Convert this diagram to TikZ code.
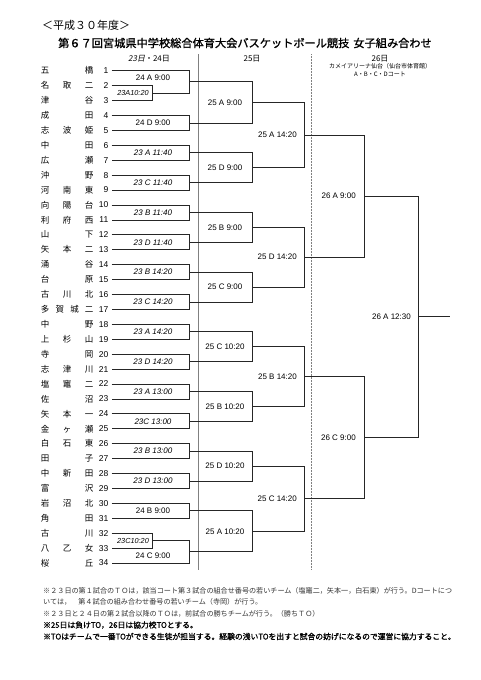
\documentclass[tikz,border=0pt]{standalone}
\usepackage{fontspec}
\setmainfont{Liberation Sans}
\newfontfamily\jp{Noto Sans CJK JP}
\newfontfamily\jpb[FakeBold=1.2]{Noto Sans CJK JP}
\newfontfamily\jpit[FakeSlant=0.2]{Noto Sans CJK JP}
\usetikzlibrary{calc}
\newcommand\bracketm[4]{%
  \draw[br] (#1) -- (#1 -| #3) -- (#2 -| #3) -- (#2);
  \coordinate (#4) at ($(#1 -| #3)!0.5!(#2 -| #3)$);
}
\begin{document}
\begin{tikzpicture}[x=1pt,y=-1pt,
  br/.style={draw=black!85, line width=0.8pt},
  divl/.style={draw=black!50, line width=0.5pt},
  divr/.style={draw=black!50, line width=0.5pt, densely dotted},
  teamname/.style={anchor=west, inner sep=0pt, font=\jp\fontsize{8.5}{10}\selectfont},
  teamnum/.style={anchor=east, inner sep=0pt, font=\fontsize{8.5}{10}\selectfont},
  labit/.style={inner sep=0pt, font=\itshape\fontsize{8}{9}\selectfont},
  labup/.style={inner sep=0pt, font=\fontsize{8}{9}\selectfont},
  labsm/.style={inner sep=0pt, font=\itshape\fontsize{7.3}{9}\selectfont},
  labr/.style={anchor=east, inner sep=0pt, font=\fontsize{8}{9}\selectfont},
  hdr/.style={inner sep=0pt, font=\jp\fontsize{8}{9}\selectfont},
  hdrs/.style={inner sep=0pt, font=\jp\fontsize{6}{7}\selectfont},
  ttl/.style={anchor=west, inner sep=0pt, font=\jp\fontsize{11}{12}\selectfont},
  ttlb/.style={anchor=west, inner sep=0pt, font=\jpb\fontsize{11.2}{12}\selectfont},
  fnm/.style={anchor=west, inner sep=0pt, text=black!80, font=\jp\fontsize{7.1}{8}\selectfont},
  fnb/.style={anchor=west, inner sep=0pt, font=\jpb\fontsize{7.8}{8}\selectfont},
]
\useasboundingbox (0,0) rectangle (481,680);
\fill[white] (0,0) rectangle (481,680);

% titles
\node[ttl] (sub) at (42,25) {＜平成３０年度＞};
\node[ttlb] (title) at (58,43) {第６７回宮城県中学校総合体育大会バスケットボール競技\hspace{4pt}女子組み合わせ};

% header
\node[hdr] (h1) at (149,59) {{\jpit 23日}・24日};
\node[hdr] (h2) at (252,59) {25日};
\node[hdr] (h3) at (380,59) {26日};
\node[hdrs] (h3a) at (380,66.7) {カメイアリーナ仙台（仙台市体育館）};
\node[hdrs] (h3b) at (380,74.3) {A・B・C・Dコート};

% dividers
\coordinate (d1t) at (198,54); \coordinate (d1b) at (198,570);
\coordinate (d2t) at (311,54); \coordinate (d2b) at (311,570);
\draw[divl] (d1t) -- (d1b);
\draw[divr] (d2t) -- (d2b);

% vertical positions of bracket levels
\coordinate (v0) at (152,0);
\coordinate (v1) at (189,0);
\coordinate (v2) at (252,0);
\coordinate (v3) at (304,0);
\coordinate (v4) at (364,0);
\coordinate (v5) at (418,0);
\coordinate (vend) at (450,0);
\coordinate (lx1) at (153,0);
\coordinate (lx0) at (133,0);
\coordinate (lx2) at (225,0);

% teams
\foreach \i/\nm in {
 1/{五\hfill 橋}, 2/{名\hfill 取\hfill 二}, 3/{津\hfill 谷}, 4/{成\hfill 田},
 5/{志\hfill 波\hfill 姫}, 6/{中\hfill 田}, 7/{広\hfill 瀬}, 8/{沖\hfill 野},
 9/{河\hfill 南\hfill 東}, 10/{向\hfill 陽\hfill 台}, 11/{利\hfill 府\hfill 西},
 12/{山\hfill 下}, 13/{矢\hfill 本\hfill 二}, 14/{涌\hfill 谷}, 15/{台\hfill 原},
 16/{古\hfill 川\hfill 北}, 17/{多\hfill 賀\hfill 城\hfill 二}, 18/{中\hfill 野},
 19/{上\hfill 杉\hfill 山}, 20/{寺\hfill 岡}, 21/{志\hfill 津\hfill 川},
 22/{塩\hfill 竈\hfill 二}, 23/{佐\hfill 沼}, 24/{矢\hfill 本\hfill 一},
 25/{金\hfill ヶ\hfill 瀬}, 26/{白\hfill 石\hfill 東}, 27/{田\hfill 子},
 28/{中\hfill 新\hfill 田}, 29/{富\hfill 沢}, 30/{岩\hfill 沼\hfill 北},
 31/{角\hfill 田}, 32/{古\hfill 川}, 33/{八\hfill 乙\hfill 女}, 34/{桜\hfill 丘}} {
  \pgfmathsetmacro\yy{70.7+(\i-1)*14.92}
  \node[teamname] (n\i) at (40.75,\yy) {\hbox to 52.5pt{\nm}};
  \node[teamnum] (k\i) at (108.5,\yy) {\i};
  \coordinate (s\i) at (111.5,\yy);
}

% round 1
\bracketm{s2}{s3}{v0}{m1}
\bracketm{s1}{m1}{v1}{m2}
\bracketm{s4}{s5}{v1}{m3}
\bracketm{s6}{s7}{v1}{m4}
\bracketm{s8}{s9}{v1}{m5}
\bracketm{s10}{s11}{v1}{m6}
\bracketm{s12}{s13}{v1}{m7}
\bracketm{s14}{s15}{v1}{m8}
\bracketm{s16}{s17}{v1}{m9}
\bracketm{s18}{s19}{v1}{m10}
\bracketm{s20}{s21}{v1}{m11}
\bracketm{s22}{s23}{v1}{m12}
\bracketm{s24}{s25}{v1}{m13}
\bracketm{s26}{s27}{v1}{m14}
\bracketm{s28}{s29}{v1}{m15}
\bracketm{s30}{s31}{v1}{m16}
\bracketm{s32}{s33}{v0}{m17}
\bracketm{m17}{s34}{v1}{m18}

\coordinate (c2) at ($(s1)!0.5!(s2)$);
\coordinate (c18) at ($(s33)!0.5!(s34)$);
\node[labsm] (l1) at (m1 -| lx0) {23A10:20};
\node[labup] (l2) at (c2 -| lx1) {24 A 9:00};
\node[labup] (l3) at (m3 -| lx1) {24 D 9:00};
\node[labit] (l4) at (m4 -| lx1) {23 A 11:40};
\node[labit] (l5) at (m5 -| lx1) {23 C 11:40};
\node[labit] (l6) at (m6 -| lx1) {23 B 11:40};
\node[labit] (l7) at (m7 -| lx1) {23 D 11:40};
\node[labit] (l8) at (m8 -| lx1) {23 B 14:20};
\node[labit] (l9) at (m9 -| lx1) {23 C 14:20};
\node[labit] (l10) at (m10 -| lx1) {23 A 14:20};
\node[labit] (l11) at (m11 -| lx1) {23 D 14:20};
\node[labit] (l12) at (m12 -| lx1) {23 A 13:00};
\node[labit] (l13) at (m13 -| lx1) {23C 13:00};
\node[labit] (l14) at (m14 -| lx1) {23 B 13:00};
\node[labit] (l15) at (m15 -| lx1) {23 D 13:00};
\node[labup] (l16) at (m16 -| lx1) {24 B 9:00};
\node[labsm] (l17) at (m17 -| lx0) {23C10:20};
\node[labup] (l18) at (c18 -| lx1) {24 C 9:00};

% round 2 (25th morning)
\bracketm{m2}{m3}{v2}{r1}
\bracketm{m4}{m5}{v2}{r2}
\bracketm{m6}{m7}{v2}{r3}
\bracketm{m8}{m9}{v2}{r4}
\bracketm{m10}{m11}{v2}{r5}
\bracketm{m12}{m13}{v2}{r6}
\bracketm{m14}{m15}{v2}{r7}
\bracketm{m16}{m18}{v2}{r8}
\node[labup] (g1) at (r1 -| lx2) {25 A 9:00};
\node[labup] (g2) at (r2 -| lx2) {25 D 9:00};
\node[labup] (g3) at (r3 -| lx2) {25 B 9:00};
\node[labup] (g4) at (r4 -| lx2) {25 C 9:00};
\node[labup] (g5) at (r5 -| lx2) {25 C 10:20};
\node[labup] (g6) at (r6 -| lx2) {25 B 10:20};
\node[labup] (g7) at (r7 -| lx2) {25 D 10:20};
\node[labup] (g8) at (r8 -| lx2) {25 A 10:20};

% round 3 (25th afternoon)
\bracketm{r1}{r2}{v3}{q1}
\bracketm{r3}{r4}{v3}{q2}
\bracketm{r5}{r6}{v3}{q3}
\bracketm{r7}{r8}{v3}{q4}
\node[labr] (h1l) at ([xshift=-7pt]q1) {25 A 14:20};
\node[labr] (h2l) at ([xshift=-7pt]q2) {25 D 14:20};
\node[labr] (h3l) at ([xshift=-7pt]q3) {25 B 14:20};
\node[labr] (h4l) at ([xshift=-7pt]q4) {25 C 14:20};

% round 4 (26th)
\bracketm{q1}{q2}{v4}{p1}
\bracketm{q3}{q4}{v4}{p2}
\node[labr] (p1l) at ([xshift=-8pt]p1) {26 A 9:00};
\node[labr] (p2l) at ([xshift=-8pt]p2) {26 C 9:00};

% final
\bracketm{p1}{p2}{v5}{f}
\coordinate (fend) at (f -| vend);
\draw[br] (f) -- (fend);
\node[labr] (fl) at ([xshift=-7pt]f) {26 A 12:30};

% footnotes
\node[fnm] (fn1) at (43,591) {※２３日の第１試合のＴＯは，該当コート第３試合の組合せ番号の若いチーム（塩竈二，矢本一，白石東）が行う。Dコートにつ};
\node[fnm] (fn2) at (43,602) {いては，　第４試合の組み合わせ番号の若いチーム（寺岡）が行う。};
\node[fnm] (fn3) at (43,613.5) {※２３日と２４日の第２試合以降のＴＯは，前試合の勝ちチームが行う。（勝ちＴＯ）};
\node[fnb] (fn4) at (43,625) {※25日は負けTO，26日は協力校TOとする。};
\node[fnb] (fn5) at (43,636.5) {※TOはチームで一番TOができる生徒が担当する。経験の浅いTOを出すと試合の妨げになるので運営に協力すること。};
\end{tikzpicture}
\end{document}
